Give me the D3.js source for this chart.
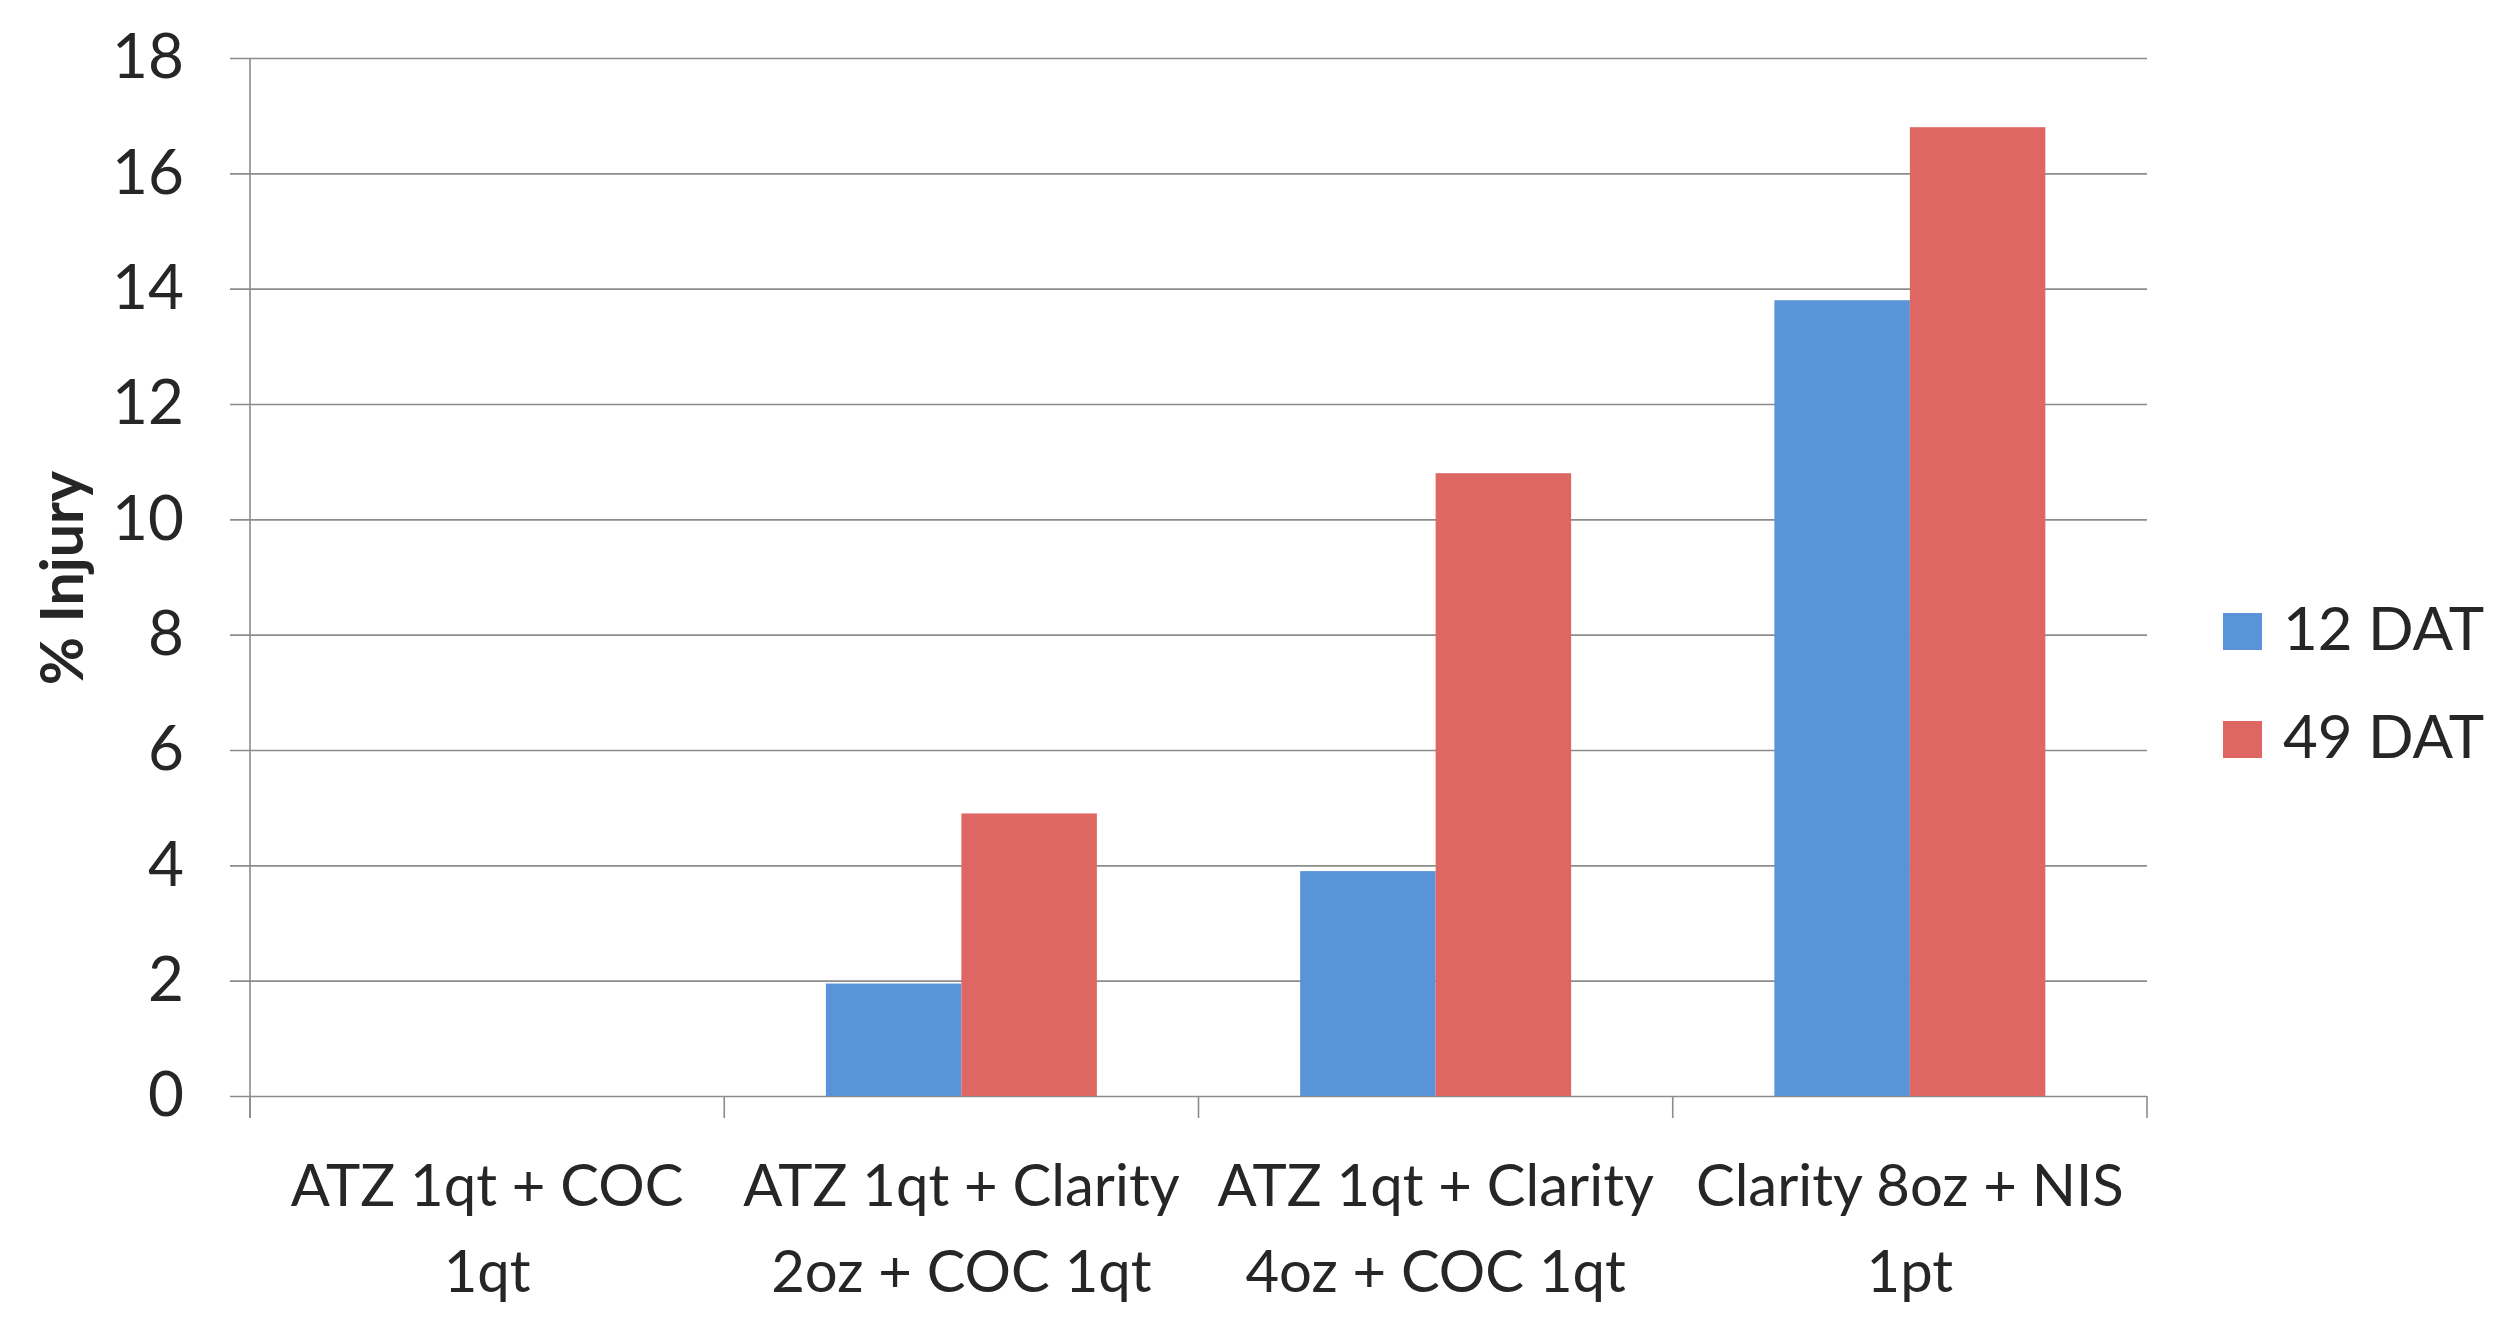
<!DOCTYPE html>
<html>
<head>
<meta charset="utf-8">
<script src="https://cdn.jsdelivr.net/npm/d3@7"></script>
<style>
  html, body { margin: 0; padding: 0; background: #fff; }
  svg { display: block; }
  text { font-family: Lato, "Open Sans", sans-serif; fill: #262626; }
  .tick line { stroke: #8c8c8c; stroke-width: 1.6; }
</style>
</head>
<body>
<svg width="2494" height="1329"></svg>
<script>
// values
const categoryLines = [
  ['ATZ 1qt + COC', '1qt'],
  ['ATZ 1qt + Clarity', '2oz + COC 1qt'],
  ['ATZ 1qt + Clarity', '4oz + COC 1qt'],
  ['Clarity 8oz + NIS', '1pt']
];
const seriesNames = ['12 DAT', '49 DAT'];
const dat12 = [0, 1.95, 3.9, 13.8];
const dat49 = [0, 4.9, 10.8, 16.8];
const yTicks = [0, 2, 4, 6, 8, 10, 12, 14, 16, 18];
const yAxisLabel = '% Injury';

(function (d3) {
  'use strict';

  const svg = d3.select('svg');
  const colors = ['#5a94d8', '#de6764'];

  const margin = { top: 58, left: 250, right: 2147, bottom: 1096 };
  const innerWidth = margin.right - margin.left;

  const seriesValues = [dat12, dat49];
  const catIdx = d3.range(categoryLines.length);

  const xScale = d3.scaleBand()
    .domain(catIdx)
    .range([margin.left, margin.right]);

  const xInner = d3.scaleBand()
    .domain(seriesNames)
    .range([0, xScale.bandwidth()])
    .paddingInner(0)
    .paddingOuter(0.75);

  const yScale = d3.scaleLinear()
    .domain([0, 18])
    .range([margin.bottom, margin.top]);

  // gridlines + y labels (ticks stick out past the axis by 20px)
  const yAxis = d3.axisLeft(yScale)
    .tickValues(yTicks)
    .tickSize(innerWidth + 20)
    .tickPadding(46);

  const yAxisG = svg.append('g')
    .attr('transform', `translate(${margin.right},0)`)
    .call(yAxis);
  yAxisG.select('.domain').remove();
  yAxisG.selectAll('text')
    .attr('font-size', 62)
    .style('font-family', 'Lato, sans-serif')
    .attr('fill', '#262626');

  // y axis line
  svg.append('line')
    .attr('x1', margin.left).attr('x2', margin.left)
    .attr('y1', yScale(18)).attr('y2', yScale(0) + 22)
    .attr('stroke', '#8c8c8c').attr('stroke-width', 1.6);

  // category boundary ticks
  svg.selectAll('line.ctick')
    .data(d3.range(categoryLines.length + 1))
    .enter().append('line')
      .attr('class', 'ctick')
      .attr('x1', i => margin.left + i * xScale.step())
      .attr('x2', i => margin.left + i * xScale.step())
      .attr('y1', yScale(0))
      .attr('y2', yScale(0) + 22)
      .attr('stroke', '#8c8c8c').attr('stroke-width', 1.6);

  // bars
  seriesNames.forEach((s, si) => {
    svg.append('g').selectAll('rect')
      .data(seriesValues[si])
      .enter().append('rect')
        .attr('x', (d, i) => xScale(i) + xInner(s))
        .attr('y', d => yScale(d))
        .attr('width', xInner.bandwidth())
        .attr('height', d => yScale(0) - yScale(d))
        .attr('fill', colors[si]);
  });

  // category labels
  const xAxis = d3.axisBottom(xScale).tickSize(0).tickFormat('');
  const xAxisG = svg.append('g')
    .attr('transform', `translate(0,${yScale(0)})`)
    .call(xAxis);
  xAxisG.select('.domain').remove();
  xAxisG.selectAll('.tick text')
    .attr('y', 0).attr('dy', null)
    .attr('font-size', 58)
    .style('font-family', 'Lato, sans-serif')
    .attr('fill', '#262626')
    .each(function (i) {
      const t = d3.select(this);
      categoryLines[i].forEach((line, li) => {
        t.append('tspan')
          .attr('x', 0)
          .attr('y', 110 + li * 86)
          .text(line);
      });
    });

  // y axis title
  svg.append('text')
    .attr('transform', 'translate(83,578) rotate(-90)')
    .attr('text-anchor', 'middle')
    .attr('font-size', 59)
    .attr('font-weight', 'bold')
    .text(yAxisLabel);

  // legend
  const legend = svg.append('g')
    .attr('transform', 'translate(2223,613)');
  const item = legend.selectAll('g').data(seriesNames)
    .enter().append('g')
      .attr('transform', (d, i) => `translate(0,${i * 108})`);
  item.append('rect')
    .attr('width', 39).attr('height', 37)
    .attr('fill', (d, i) => colors[i]);
  item.append('text')
    .attr('x', 60).attr('y', 37)
    .attr('font-size', 60)
    .text(d => d);

}(d3));
</script>
</body>
</html>
